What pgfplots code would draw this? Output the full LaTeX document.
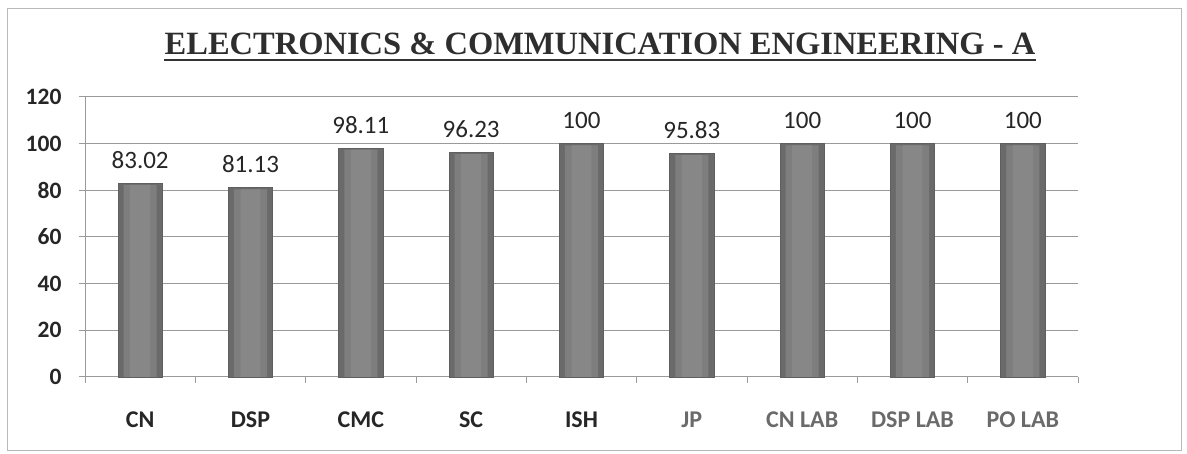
\documentclass[border=0pt]{standalone}
\usepackage{pgfplots}
\pgfplotsset{compat=1.18}
\usepackage{fontspec}
\setmainfont{Carlito}
\newfontfamily\titlefont{Liberation Serif}
\definecolor{gridc}{HTML}{9A9A9A}
\definecolor{barmid}{HTML}{7E7E7E}
\definecolor{barlight}{HTML}{878787}
\definecolor{baredge}{HTML}{6A6A6A}
\definecolor{labA}{HTML}{262626}
\definecolor{labB}{HTML}{6A6A6A}
\begin{document}
\begin{tikzpicture}
\path[use as bounding box] (0,0) rectangle (1187pt,454pt);
\draw[gray!55, line width=0.8pt] (7pt,4pt) rectangle (1181pt,446pt);
\node[font=\titlefont\bfseries\fontsize{32.5}{36}\selectfont, text=black!82, inner sep=0pt, anchor=base] (t) at (600pt,399pt) {ELECTRONICS \& COMMUNICATION ENGINEERING - A};
\draw[black!80, line width=2pt] ([yshift=-5pt]t.base west) -- ([yshift=-5pt]t.base east);
\begin{axis}[
  at={(85pt,77pt)}, anchor=south west,
  scale only axis, width=993pt, height=280pt,
  xmin=-0.5, xmax=8.5, ymin=0, ymax=120,
  ytick={0,20,...,120},
  xtick={0,...,8},
  xticklabels={{\textcolor{labA}{CN}},{\textcolor{labA}{DSP}},{\textcolor{labA}{CMC}},{\textcolor{labA}{SC}},{\textcolor{labA}{ISH}},{\textcolor{labB}{JP}},{\textcolor{labB}{CN LAB}},{\textcolor{labB}{DSP LAB}},{\textcolor{labB}{PO LAB}}},
  x tick label style={font=\bfseries\fontsize{24}{28}\selectfont, yshift=-25pt},
  y tick label style={font=\bfseries\fontsize{23.5}{28}\selectfont, text=labA, xshift=-14pt},
  /pgf/number format/assume math mode=true,
  axis x line*=bottom, axis y line*=left,
  axis line style={gridc, line width=1pt},
  x axis line style={-}, y axis line style={-},
  xtick style={draw=none},
  ytick style={draw=gridc, line width=1pt},
  tick align=outside, major tick length=6pt,
  extra x ticks={-0.5,0.5,...,8.5},
  extra x tick labels={},
  extra x tick style={grid=none, xtick style={draw=gridc, line width=1pt}, major tick length=6pt},
  ymajorgrids, grid style={gridc, line width=1pt},
  clip=false,
]
\addplot[ybar, bar width=0.4, bar shift=0pt, draw=baredge!90!black, line width=0.6pt, fill=baredge,
  nodes near coords,
  nodes near coords style={font=\fontsize{25}{28}\selectfont, text=labA, yshift=11pt}] coordinates {
(0,83.02) (1,81.13) (2,98.11) (3,96.23) (4,100) (5,95.83) (6,100) (7,100) (8,100)};
\addplot[ybar, bar width=0.3, bar shift=0pt, draw=none, fill=barmid] coordinates {
(0,82.3) (1,80.4) (2,97.4) (3,95.5) (4,99.3) (5,95.1) (6,99.3) (7,99.3) (8,99.3)};
\addplot[ybar, bar width=0.18, bar shift=0pt, draw=none, fill=barlight] coordinates {
(0,82.3) (1,80.4) (2,97.4) (3,95.5) (4,99.3) (5,95.1) (6,99.3) (7,99.3) (8,99.3)};
\end{axis}
\end{tikzpicture}
\end{document}
